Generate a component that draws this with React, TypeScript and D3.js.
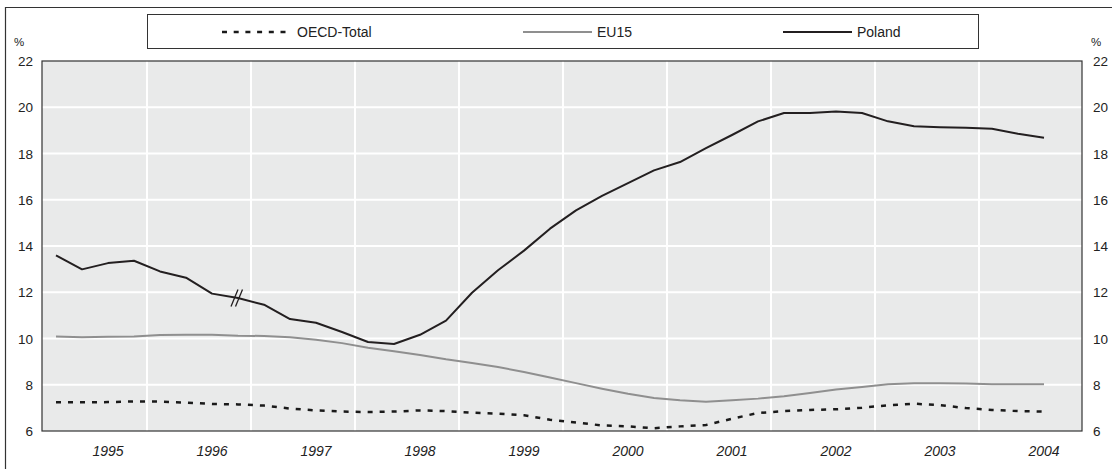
import React from "react";
import * as d3 from "d3";

const years = ["1995", "1996", "1997", "1998", "1999", "2000", "2001", "2002", "2003", "2004"];
const yTicks = [6, 8, 10, 12, 14, 16, 18, 20, 22];

const poland = [
  13.59, 12.99, 13.26, 13.36, 12.9, 12.63, 11.94, 11.75, 11.46, 10.84, 10.68, 10.28, 9.85, 9.76,
  10.16, 10.77, 11.98, 12.95, 13.8, 14.75, 15.54, 16.17, 16.72, 17.27, 17.63, 18.23, 18.8,
  19.39, 19.75, 19.75, 19.82, 19.75, 19.39, 19.18, 19.14, 19.11, 19.07, 18.85, 18.68,
];
const eu15 = [
  10.09, 10.05, 10.08, 10.09, 10.15, 10.16, 10.16, 10.12, 10.11, 10.05, 9.95, 9.8, 9.6, 9.45,
  9.29, 9.1, 8.94, 8.77, 8.55, 8.31, 8.07, 7.83, 7.61, 7.43, 7.33, 7.27, 7.33,
  7.4, 7.5, 7.64, 7.79, 7.9, 8.02, 8.06, 8.06, 8.05, 8.02, 8.02, 8.02,
];
const oecd = [
  7.24, 7.24, 7.25, 7.28, 7.27, 7.23, 7.17, 7.15, 7.1, 6.97, 6.89, 6.84, 6.82, 6.84,
  6.89, 6.86, 6.79, 6.75, 6.68, 6.49, 6.37, 6.24, 6.2, 6.12, 6.2, 6.26, 6.53,
  6.78, 6.86, 6.91, 6.94, 7.01, 7.11, 7.18, 7.12, 6.99, 6.91, 6.86, 6.84,
];

const legendItems = [
  { name: "OECD-Total", color: "#1a1a1a", dash: "5,6.7", width: 2.5, x1: 222, x2: 292 },
  { name: "EU15", color: "#8f8f8f", dash: "none", width: 2, x1: 523, x2: 592 },
  { name: "Poland", color: "#231f20", dash: "none", width: 2, x1: 783, x2: 852 },
];

export default function App() {
  const W = 1112, H = 469;
  const left = 42, right = 1082, top = 61, bottom = 431;
  const x = d3.scaleLinear().domain([0, 39]).range([56, 1070]);
  const y = d3.scaleLinear().domain([6, 22]).range([bottom, top]);
  const line = d3.line<number>().x((_, i) => x(i)).y((d) => y(d));
  const font = "'Liberation Sans', Arial, sans-serif";
  const gridX = years.slice(0, 9).map((_, k) => 3.5 + 4 * k);
  const bx = x(7), by = y(poland[7]);

  return (
    <svg width={W} height={H} style={{ position: "absolute", left: 0, top: 0 }} fontFamily={font}>
      <rect x={0} y={0} width={W} height={H} fill="#fff" />
      {/* outer frame */}
      <path d={`M5.5,${H} V7.5 H${W}`} fill="none" stroke="#333" strokeWidth={1.2} />
      {/* legend box */}
      <rect x={147.5} y={14.5} width={831} height={34} fill="#fff" stroke="#333" strokeWidth={1} />
      {legendItems.map((it) => (
        <g key={it.name}>
          <line x1={it.x1} x2={it.x2} y1={32} y2={32} stroke={it.color} strokeWidth={it.width}
            strokeDasharray={it.dash === "none" ? undefined : it.dash} />
          <text x={it.x2 + 5} y={37} fontSize={14} fill="#222">{it.name}</text>
        </g>
      ))}
      {/* plot */}
      <rect x={left} y={top} width={right - left} height={bottom - top} fill="#e9eaea" />
      {yTicks.slice(1, -1).map((t) => (
        <line key={t} x1={left} x2={right} y1={y(t)} y2={y(t)} stroke="#fff" strokeWidth={2} />
      ))}
      {gridX.map((g) => (
        <line key={g} x1={x(g)} x2={x(g)} y1={top} y2={bottom} stroke="#fff" strokeWidth={2} />
      ))}
      <rect x={left} y={top} width={right - left} height={bottom - top} fill="none" stroke="#333" strokeWidth={1.2} />
      <path d={line(eu15) || ""} fill="none" stroke="#8f8f8f" strokeWidth={2} />
      <path d={line(oecd) || ""} fill="none" stroke="#1a1a1a" strokeWidth={2.5} strokeDasharray="5,7" />
      <path d={line(poland) || ""} fill="none" stroke="#231f20" strokeWidth={2} strokeLinejoin="round" />
      {/* break mark */}
      <line x1={bx - 7} y1={by + 8.5} x2={bx} y2={by - 8.5} stroke="#231f20" strokeWidth={1.3} />
      <line x1={bx - 2.5} y1={by + 8.5} x2={bx + 4.5} y2={by - 8.5} stroke="#231f20" strokeWidth={1.3} />
      {/* axes labels */}
      {yTicks.map((t) => (
        <g key={t}>
          <text x={33} y={y(t) + 5} fontSize={13.5} textAnchor="end" fill="#222">{t}</text>
          <text x={1093} y={y(t) + 5} fontSize={13.5} fill="#222">{t}</text>
        </g>
      ))}
      <text x={14} y={46} fontSize={11.5} fill="#222">%</text>
      <text x={1091} y={46} fontSize={11.5} fill="#222">%</text>
      {years.map((yr, k) => (
        <text key={yr} x={x(4 * k + 2)} y={456} fontSize={14} fontStyle="italic" textAnchor="middle" fill="#222">{yr}</text>
      ))}
    </svg>
  );
}
